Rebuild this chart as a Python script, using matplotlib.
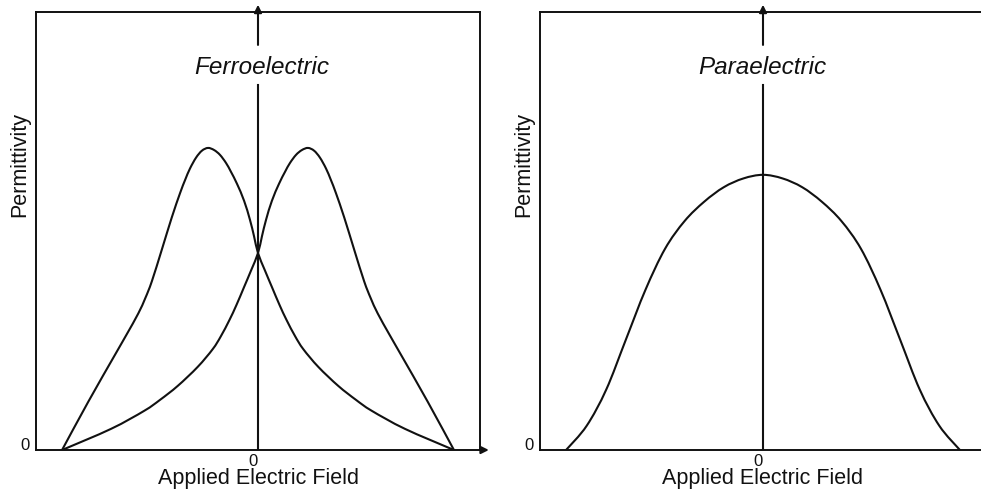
"""Permittivity vs applied field: ferroelectric butterfly and paraelectric bell."""
import matplotlib
matplotlib.use("Agg")
import matplotlib.pyplot as plt
import matplotlib.transforms as mtransforms
from matplotlib.patches import PathPatch
from matplotlib.path import Path
import numpy as np

plt.rcParams.update({
    "font.family": ["Liberation Sans", "DejaVu Sans"],
    "font.size": 12,
    "axes.linewidth": 1.4,
    "lines.linewidth": 1.4,
})

INK = "#111111"
LW = 1.5

# Ferroelectric: one sweep branch (field, permittivity; arbitrary units).
# The return sweep is the same branch mirrored in field.
FERRO_E = [-10.0, -8.66, -7.30, -6.70, -6.11, -5.75, -5.42, -4.91, -4.40,
           -3.98, -3.72, -3.47, -3.16, -2.86, -2.55, -2.24, -1.94, -1.63,
           -1.38, -1.07, -0.71, -0.41, -0.20, 0.0, 0.35, 0.72, 1.10, 1.46,
           1.90, 2.31, 3.08, 4.10, 5.00, 5.80, 7.50, 10.0]
FERRO_EPS = [0.0, 1.60, 3.15, 3.83, 4.52, 5.03, 5.58, 6.63, 7.70,
             8.50, 8.94, 9.32, 9.68, 9.91, 10.0, 9.93, 9.77, 9.50,
             9.21, 8.81, 8.25, 7.62, 7.07, 6.52, 5.95, 5.38, 4.80, 4.30,
             3.76, 3.34, 2.75, 2.12, 1.66, 1.30, 0.70, 0.0]

# Paraelectric: single-valued bell
PARA_E = [-10.05, -9.0, -8.0, -7.0, -6.0, -5.0, -4.0, -3.0, -2.0, -1.0,
          0.0, 1.0, 2.0, 3.0, 4.0, 5.0, 6.0, 7.0, 8.0, 9.0, 10.05]
PARA_EPS = [0.0, 0.80, 2.00, 3.65, 5.30, 6.66, 7.58, 8.22, 8.70, 8.99,
            9.11, 8.99, 8.70, 8.22, 7.58, 6.66, 5.30, 3.65, 2.00, 0.80, 0.0]

Y_TOP = 14.5          # top of frame (permittivity units)
GAP = (12.09, 13.41)  # break in the E=0 axis where the title sits
ARROW_TIP = 14.74


def smooth_curve(ax, xs, ys):
    """Draw a curve through every point, joined by Catmull-Rom Beziers
    built in display space so the joins stay round on screen."""
    pts = ax.transData.transform(np.column_stack([xs, ys]))
    verts = [pts[0]]
    codes = [Path.MOVETO]
    n = len(pts)
    for i in range(n - 1):
        p0 = pts[max(i - 1, 0)]
        p1, p2 = pts[i], pts[i + 1]
        p3 = pts[min(i + 2, n - 1)]
        verts += [p1 + (p2 - p0) / 6, p2 - (p3 - p1) / 6, p2]
        codes += [Path.CURVE4] * 3
    path = Path(ax.transData.inverted().transform(np.array(verts)), codes)
    ax.add_patch(PathPatch(path, facecolor="none", edgecolor=INK, lw=LW,
                           capstyle="round", joinstyle="round"))


def arrow(ax, start, end):
    ax.annotate("", xy=end, xytext=start, annotation_clip=False,
                arrowprops=dict(arrowstyle="-|>", color=INK, lw=LW,
                                mutation_scale=11, shrinkA=0, shrinkB=0))


def setup_panel(ax, xlim, title, title_x):
    ax.set_xlim(*xlim)
    ax.set_ylim(0, Y_TOP)
    ax.set_xticks([])
    ax.set_yticks([])
    for sp in ax.spines.values():
        sp.set_color(INK)

    # E = 0 axis, broken around the title, with arrow at the top
    ax.plot([0, 0], [0, GAP[0]], color=INK, lw=LW)
    arrow(ax, (0, GAP[1]), (0, ARROW_TIP))

    ax.text(title_x, 0.874, title, transform=ax.transAxes, ha="center",
            va="center", fontsize=17.5, fontstyle="italic", color=INK)

    ax.text(-0.036, 0.651, "Permittivity", transform=ax.transAxes,
            rotation=90, ha="center", va="center", fontsize=15.5, color=INK)
    ax.text(0.5, -0.064, "Applied Electric Field", transform=ax.transAxes,
            ha="center", va="center", fontsize=15.5, color=INK)

    blend = mtransforms.blended_transform_factory(ax.transAxes, ax.transData)
    ax.text(-0.025, 0.15, "0", transform=blend, ha="center", va="center",
            fontsize=12, color=INK)
    ax.text(-0.28, -0.37, "0", ha="center", va="center", fontsize=12,
            color=INK, clip_on=False)


def main():
    fig = plt.figure(figsize=(9.81, 4.94), dpi=100)

    # Ferroelectric panel
    ax1 = fig.add_axes([36 / 981, 44 / 494, 444 / 981, 438 / 494])
    setup_panel(ax1, (-11.33, 11.33), "Ferroelectric", 0.508)
    smooth_curve(ax1, FERRO_E, FERRO_EPS)
    smooth_curve(ax1, [-e for e in FERRO_E], FERRO_EPS)
    arrow(ax1, (11.33, 0), (11.78, 0))

    # Paraelectric panel (frame runs past the right edge of the figure)
    ax2 = fig.add_axes([540 / 981, 44 / 494, 446 / 981, 438 / 494])
    setup_panel(ax2, (-11.38, 11.38), "Paraelectric", 0.499)
    smooth_curve(ax2, PARA_E, PARA_EPS)

    fig.savefig("out.png", dpi=100, facecolor="white")
    plt.close(fig)


if __name__ == "__main__":
    main()
